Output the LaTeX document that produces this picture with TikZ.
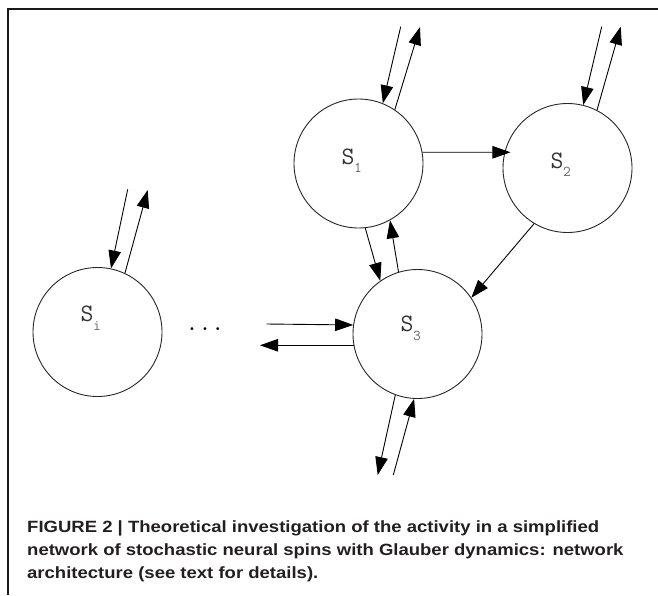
\documentclass[tikz,border=0pt]{standalone}
\usepackage{fontspec}
\usetikzlibrary{arrows.meta}
\newfontfamily\capfont{Liberation Sans}
\definecolor{capcol}{HTML}{231F20}
\newsavebox\capbox
\newcommand\capsize{\fontsize{16.3}{16.3}\selectfont}
\newcommand\spinS[1]{{\fontsize{25}{25}\selectfont\ttfamily\color{black!80}S}\kern-0.5pt\raisebox{-8.5pt}{\fontsize{15}{15}\selectfont\ttfamily\color{black!60}#1}}
\AtBeginDocument{%
  \sbox\capbox{\capfont\bfseries\capsize FIGURE 2 | Theoretical investigation of the activity in a simplified}%
  \pgfmathsetmacro\capsx{572/\the\wd\capbox}%
}
\tikzset{
  spin/.style={circle, draw=black!85, line width=0.9pt, minimum size=129pt, inner sep=0pt},
  arr/.style={-{Triangle[length=18pt,width=12.5pt]}, line width=0.9pt, draw=black},
  lab/.style={anchor=base west, inner sep=0pt},
  capline/.style={anchor=base west, inner sep=0pt, text=capcol},
  frame/.style={line width=2.6pt, draw=black!90, line join=miter}
}
\begin{document}
\begin{tikzpicture}[x=1pt,y=-1pt]
\useasboundingbox (0,0) rectangle (658,595);
% frame
\draw[frame] (658,9) -- (8,9) -- (8,595);
% spins
\node[spin] (s1) at (358.5,163.5) {};
\node[spin] (s2) at (567.5,168) {};
\node[spin] (si) at (97.5,332) {};
\node[spin] (s3) at (417.5,334) {};
% labels
\node[lab] (l1) at (341.5,164) {\spinS{1}};
\node[lab] (l2) at (550.5,168) {\spinS{2}};
\node[lab] (li) at (80.5,321.5) {\spinS{i}};
\node[lab] (l3) at (400.5,331.5) {\spinS{3}};
\node[anchor=base, inner sep=0pt] (dots) at (205,330) {\fontsize{25}{25}\selectfont\ttfamily ...};
% free ends
\coordinate (c1in) at (400.7,26.7);
\coordinate (c1out) at (420,27);
\coordinate (c2in) at (601.7,26.7);
\coordinate (c2out) at (620.7,26.7);
\coordinate (ciin) at (127.7,189.3);
\coordinate (ciout) at (147.7,190);
\coordinate (chin) at (266.7,324);
\coordinate (chout) at (260,346);
\coordinate (c3out) at (377.7,475);
\coordinate (c3in) at (393.3,475);
% arrows
\draw[arr] (c1in) -- (s1.68.6);
\draw[arr] (s1.56.4) -- (c1out);
\draw[arr] (c2in) -- (s2.76.1);
\draw[arr] (s2.63.6) -- (c2out);
\draw[arr] (ciin) -- (si.78.5);
\draw[arr] (si.65.5) -- (ciout);
\draw[arr, shorten >=-6pt] (s1.10.2) -- (s2.166);
\draw[arr] (s1.-84.8) -- (s3.125.6);
\draw[arr] (s3.107.8) -- (s1.-61.9);
\draw[arr] (s2.239.5) -- (s3.34.5);
\draw[arr] (chin) -- (s3.172.2);
\draw[arr] (s3.190.2) -- (chout |- s3.190.2);
\draw[arr] (s3.250.6) -- (c3out);
\draw[arr] (c3in) -- (s3.267.7);
% caption
\node[capline] (cap1) at (27,532.5) {\scalebox{\capsx}[1]{\capfont\bfseries\capsize FIGURE 2 | Theoretical investigation of the activity in a simplified}};
\node[capline] (cap2) at (27,555.5) {\scalebox{\capsx}[1]{\capfont\bfseries\capsize network of stochastic neural spins with Glauber dynamics: network}};
\node[capline] (cap3) at (27,578) {\scalebox{\capsx}[1]{\capfont\bfseries\capsize architecture (see text for details).}};
\end{tikzpicture}
\end{document}
